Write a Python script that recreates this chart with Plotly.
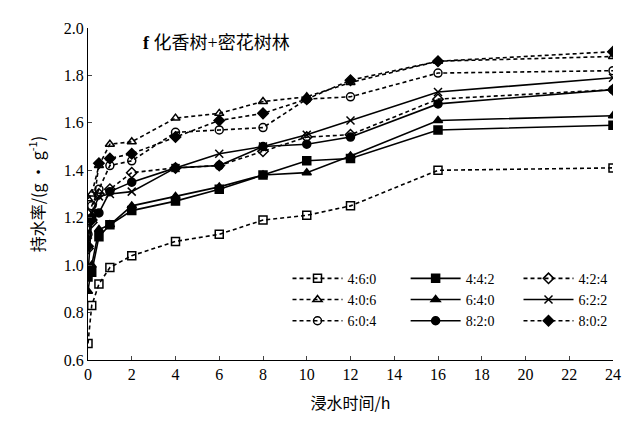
import plotly.graph_objects as go

# soaking time (h)
hours = [0, 0.17, 0.5, 1, 2, 4, 6, 8, 10, 12, 16, 24]

s460 = [0.67, 0.83, 0.92, 0.99, 1.04, 1.10, 1.13, 1.19, 1.21, 1.25, 1.40, 1.41]
s442 = [0.95, 0.97, 1.12, 1.17, 1.23, 1.27, 1.32, 1.38, 1.44, 1.45, 1.57, 1.59]
s424 = [1.07, 1.18, 1.30, 1.32, 1.39, 1.41, 1.42, 1.48, 1.54, 1.55, 1.70, 1.74]
s406 = [1.28, 1.30, 1.42, 1.51, 1.52, 1.62, 1.64, 1.69, 1.71, 1.77, 1.86, 1.88]
s640 = [0.89, 1.00, 1.15, 1.17, 1.25, 1.29, 1.33, 1.38, 1.39, 1.46, 1.61, 1.63]
s622 = [1.10, 1.22, 1.29, 1.30, 1.31, 1.41, 1.47, 1.50, 1.55, 1.61, 1.73, 1.79]
s604 = [1.13, 1.25, 1.32, 1.42, 1.44, 1.56, 1.57, 1.58, 1.70, 1.71, 1.81, 1.82]
s820 = [0.96, 1.20, 1.22, 1.31, 1.35, 1.41, 1.42, 1.50, 1.51, 1.54, 1.68, 1.74]
s802 = [1.08, 1.19, 1.43, 1.45, 1.47, 1.54, 1.61, 1.64, 1.70, 1.78, 1.86, 1.90]

series = [
    ("4:6:0", s460, "square-open", "dash"),
    ("4:4:2", s442, "square", "solid"),
    ("4:2:4", s424, "diamond-open", "dash"),
    ("4:0:6", s406, "triangle-up-open", "dash"),
    ("6:4:0", s640, "triangle-up", "solid"),
    ("6:2:2", s622, "x-thin", "solid"),
    ("6:0:4", s604, "circle-open", "dash"),
    ("8:2:0", s820, "circle", "solid"),
    ("8:0:2", s802, "diamond", "dash"),
]

legends = ["legend", "legend2", "legend3"]

fig = go.Figure()
for i, (name, vals, sym, dash) in enumerate(series):
    fig.add_trace(go.Scatter(
        x=hours, y=vals, name=name, mode="lines+markers", legend=legends[i % 3],
        line=dict(color="black", width=1.6, dash="4px,3px" if dash == "dash" else "solid"),
        marker=dict(symbol=sym, size=8, color="black",
                    line=dict(color="black", width=1.5)),
    ))

leg = dict(yanchor="bottom", y=0.07, xanchor="left", bgcolor="rgba(0,0,0,0)",
           font=dict(size=14, family="Liberation Serif"), tracegroupgap=0, itemwidth=50)
fig.update_layout(
    width=632, height=422,
    margin=dict(l=80, r=27, t=15, b=70),
    plot_bgcolor="white", paper_bgcolor="white",
    font=dict(family="Liberation Serif, Noto Sans CJK SC", size=16, color="black"),
    showlegend=True,
    legend=dict(leg, x=0.38),
    legend2=dict(leg, x=0.605),
    legend3=dict(leg, x=0.82),
    annotations=[dict(text="<b>f</b> 化香树+密花树林", x=0.1, y=0.99, xref="paper", yref="paper",
                      xanchor="left", yanchor="top", showarrow=False,
                      font=dict(size=18, family="Liberation Serif, Noto Sans CJK SC"))],
)
fig.update_xaxes(range=[0, 24], dtick=2, showline=True, linecolor="black", linewidth=1.2,
                 ticks="inside", ticklen=4, showgrid=False, zeroline=False,
                 title=dict(text="浸水时间/h", font=dict(family="Noto Sans CJK SC", size=16)))
fig.update_yaxes(range=[0.6, 2.0], dtick=0.2, tickformat=".1f", showline=True,
                 linecolor="black", linewidth=1.2, ticks="inside", ticklen=4,
                 showgrid=False, zeroline=False,
                 title=dict(text="持水率/(g • g<sup>-1</sup>)", font=dict(family="Noto Sans CJK SC", size=16)))

fig.write_html("out.html")
